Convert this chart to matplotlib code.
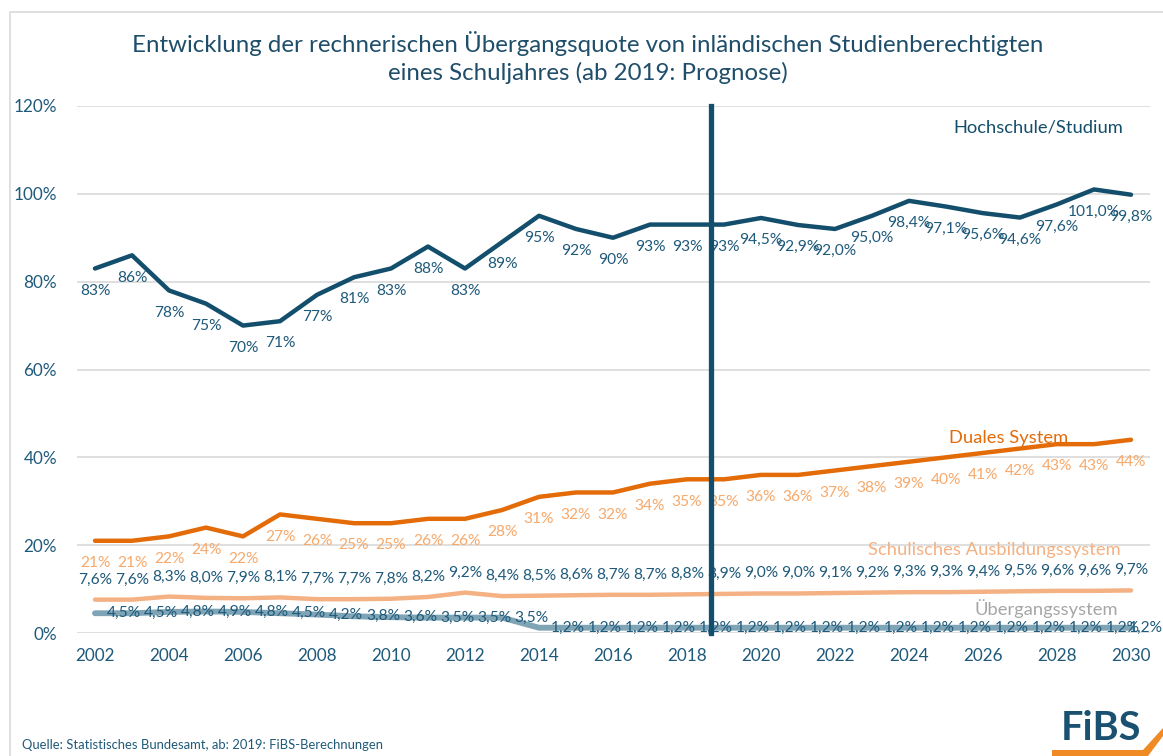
import matplotlib
matplotlib.use("Agg")
import matplotlib.pyplot as plt
from matplotlib.patches import Rectangle, Polygon
import numpy as np

plt.rcParams['font.family'] = ['Lato', 'DejaVu Sans']

years = list(range(2002, 2031))
hochschule = [83, 86, 78, 75, 70, 71, 77, 81, 83, 88, 83, 89, 95, 92, 90, 93, 93, 93,
              94.5, 92.9, 92.0, 95.0, 98.4, 97.1, 95.6, 94.6, 97.6, 101.0, 99.8]
duales = [21, 21, 22, 24, 22, 27, 26, 25, 25, 26, 26, 28, 31, 32, 32, 34, 35, 35,
          36, 36, 37, 38, 39, 40, 41, 42, 43, 43, 44]
schulisch = [7.6, 7.6, 8.3, 8.0, 7.9, 8.1, 7.7, 7.7, 7.8, 8.2, 9.2, 8.4, 8.5, 8.6, 8.7,
             8.7, 8.8, 8.9, 9.0, 9.0, 9.1, 9.2, 9.3, 9.3, 9.4, 9.5, 9.6, 9.6, 9.7]
uebergang = [4.5, 4.5, 4.8, 4.9, 4.8, 4.5, 4.2, 3.8, 3.6, 3.5, 3.5, 3.5] + [1.2] * 17
prognose_x = 2018.65
yticks = [0, 20, 40, 60, 80, 100, 120]
xticks = list(range(2002, 2031, 2))

c_hs = '#134f6c'
c_hs_lab = '#1f5a7a'
c_du = '#e36c09'
c_du_lab = '#f6a96b'
c_sch = '#f4b183'
c_ub = '#7ea4b6'
c_grid = '#d9d9d9'

fig = plt.figure(figsize=(11.63, 7.56), dpi=100)
W, H = 1163, 756
ax = fig.add_axes([76.5 / W, (H - 633) / H, (1149.5 - 76.5) / W, (633 - 106) / H])

# frame
fig.patches.append(Rectangle((10 / W, -0.1), 1.2, (H - 12) / H + 0.1, transform=fig.transFigure,
                             fill=False, edgecolor='#d9d9d9', linewidth=1.2))

ax.plot(years, uebergang, color=c_ub, lw=4.2, solid_capstyle='round', zorder=3)
ax.plot(years, schulisch, color=c_sch, lw=3.2, solid_capstyle='round', zorder=3)
ax.plot(years, duales, color=c_du, lw=3.2, solid_capstyle='round', zorder=3)
ax.plot(years, hochschule, color=c_hs, lw=3.2, solid_capstyle='round', zorder=3)
ax.plot([prognose_x, prognose_x], [0, 120], color=c_hs, lw=3.8, zorder=6, clip_on=False)

def fmt_int(v):
    return f"{v:.0f}%"

def fmt_dec(v):
    return f"{v:.1f}%".replace('.', ',')

fs_lab = 11.2
for i, (x, v) in enumerate(zip(years, hochschule)):
    s = fmt_int(v) if x < 2020 else fmt_dec(v)
    ax.annotate(s, (x, v), xytext=(0, -16), textcoords='offset points', ha='center', va='center',
                color=c_hs_lab, fontsize=fs_lab, zorder=5)
for x, v in zip(years, duales):
    ax.annotate(fmt_int(v), (x, v), xytext=(0, -16), textcoords='offset points', ha='center', va='center',
                color=c_du_lab, fontsize=fs_lab, zorder=5)
for x, v in zip(years, schulisch):
    ax.annotate(fmt_dec(v), (x, v), xytext=(0, 14.5), textcoords='offset points', ha='center', va='center',
                color=c_hs_lab, fontsize=fs_lab, zorder=5)
for i, (x, v) in enumerate(zip(years, uebergang)):
    dx = 21 if i < len(years) - 1 else 11
    ax.annotate(fmt_dec(v), (x, v), xytext=(dx, 0), textcoords='offset points', ha='center', va='center',
                color=c_hs_lab, fontsize=fs_lab, zorder=5, annotation_clip=False)

# series names
ax.text(2027.5, 115.0, 'Hochschule/Studium', color=c_hs, fontsize=13.2, ha='center', va='center')
ax.text(2026.7, 44.3, 'Duales System', color=c_du, fontsize=13.2, ha='center', va='center')
ax.text(2026.3, 19.0, 'Schulisches Ausbildungssystem', color=c_sch, fontsize=13.2, ha='center', va='center')
ax.text(2027.7, 5.6, 'Übergangssystem', color='#a6a6a6', fontsize=13.2, ha='center', va='center')

ax.set_xlim(2001.5, 2030.5)
ax.set_ylim(0, 120)
ax.set_yticks(yticks)
ax.set_yticklabels([f"{t}%" for t in yticks])
ax.set_xticks(xticks)
ax.set_xticklabels([str(t) for t in xticks])
ax.tick_params(axis='both', length=0, colors=c_hs_lab, labelsize=12.3)
ax.tick_params(axis='y', pad=14)
ax.tick_params(axis='x', pad=11)
ax.grid(axis='y', color=c_grid, lw=1.2)
ax.set_axisbelow(True)
for sp in ax.spines.values():
    sp.set_visible(False)

fig.text(588 / W, 1 - 43 / H, 'Entwicklung der rechnerischen Übergangsquote von inländischen Studienberechtigten',
         ha='center', va='center', fontsize=17.3, color='#1f4e6b')
fig.text(588 / W, 1 - 73 / H, 'eines Schuljahres (ab 2019: Prognose)',
         ha='center', va='center', fontsize=17.3, color='#1f4e6b')

fig.text(22 / W, 1 - 745 / H, 'Quelle: Statistisches Bundesamt, ab: 2019: FiBS-Berechnungen',
         ha='left', va='center', fontsize=9.4, color=c_hs_lab)

# logo
fig.text(1101 / W, 1 - 728 / H, 'FiBS', ha='center', va='center', fontsize=28.5, fontweight='bold',
         color='#1a5070')
fig.patches.append(Polygon([(1052 / W, 0), (1052 / W, 6 / H), (1143 / W, 6 / H), (1163 / W, 28 / H),
                            (1163 / W, 20 / H), (1148 / W, 0)],
                           closed=True, transform=fig.transFigure, facecolor='#f08a24', edgecolor='none'))

fig.savefig('out.png', dpi=100)
